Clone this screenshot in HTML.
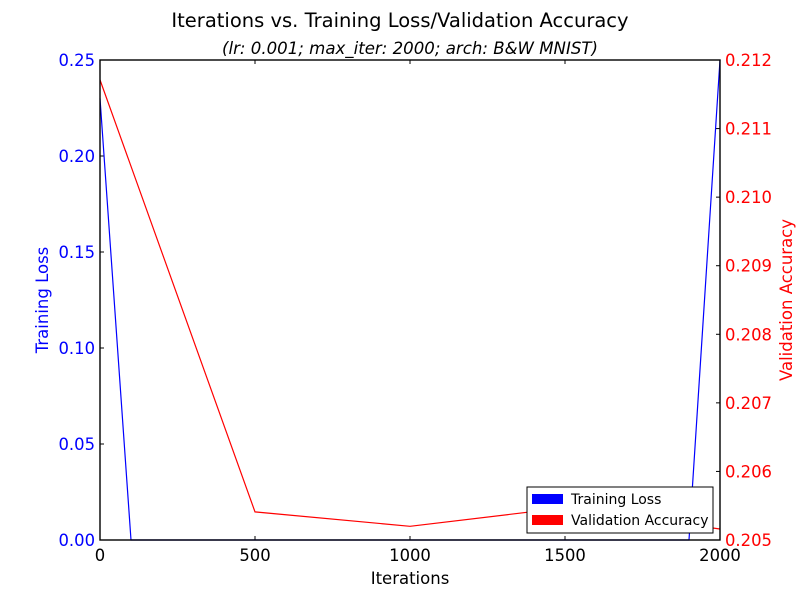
<!DOCTYPE html>
<html><head><meta charset="utf-8"><style>
body{margin:0;background:#fff}
svg{font-family:"DejaVu Sans","Liberation Sans",sans-serif}
</style></head><body>
<svg id="c" width="800" height="600" xmlns="http://www.w3.org/2000/svg">
<rect width="800" height="600" fill="#fff"/>
<text x="400" y="27" font-size="19.5" text-anchor="middle">Iterations vs. Training Loss/Validation Accuracy</text>
<text x="410" y="54" font-size="16.6" font-style="italic" text-anchor="middle">(lr: 0.001; max_iter: 2000; arch: B&amp;W MNIST)</text>
<g id="ticks"></g>
<g id="series"></g>
<rect x="100" y="60" width="620" height="480" fill="none" stroke="#000" stroke-width="1.4"/>
<text x="410" y="584" font-size="16.5" text-anchor="middle">Iterations</text>
<text transform="translate(48,300) rotate(-90)" font-size="16.5" fill="#0000ff" text-anchor="middle">Training Loss</text>
<text transform="translate(792,300) rotate(-90)" font-size="16.5" fill="#ff0000" text-anchor="middle">Validation Accuracy</text>
<g>
<rect x="527" y="487" width="186" height="46" fill="#fff" stroke="#000"/>
<rect x="532" y="494" width="31" height="10" fill="#0000ff"/>
<text x="571" y="504" font-size="14">Training Loss</text>
<rect x="532" y="515" width="31" height="10" fill="#ff0000"/>
<text x="571" y="525" font-size="14">Validation Accuracy</text>
</g>
</svg>
<script>
const lossIters=[0,100,1900,2000];
const lossValues=[0.23,0,0,0.25];
const accIters=[0,500,1000,1500,2000];
const accValues=[0.21171,0.20541,0.20520,0.20547,0.20516];
const xTicks=[0,500,1000,1500,2000];
const leftTicks=[0,0.05,0.10,0.15,0.20,0.25];
const leftTickLabels=["0.00","0.05","0.10","0.15","0.20","0.25"];
const rightTicks=[0.205,0.206,0.207,0.208,0.209,0.210,0.211,0.212];
const rightTickLabels=["0.205","0.206","0.207","0.208","0.209","0.210","0.211","0.212"];
const NS="http://www.w3.org/2000/svg";
const X=v=>100+v/2000*620;
const YL=v=>540-v/0.25*480;
const YR=v=>540-(v-0.205)/0.007*480;
const tg=document.getElementById('ticks'),sg=document.getElementById('series');
function mk(t,a,p){const e=document.createElementNS(NS,t);for(const k in a)e.setAttribute(k,a[k]);p.appendChild(e);return e;}
xTicks.forEach(v=>{const x=X(v);
 const l=mk('path',{d:`M${x},540v-4M${x},60v4`,stroke:'#000'},tg);
 
 
 const t=mk('text',{x:x,y:561,'font-size':16.4,'text-anchor':'middle'},tg);t.textContent=v;
 
 });
leftTicks.forEach((v,i)=>{const y=YL(v);
 const l=mk('path',{d:`M100,${y}h4`,stroke:'#000'},tg);
 
 
 const t=mk('text',{x:95,y:y+6,'font-size':16.4,'text-anchor':'end',fill:'#0000ff'},tg);t.textContent=leftTickLabels[i];
 
 });
rightTicks.forEach((v,i)=>{const y=YR(v);
 const l=mk('path',{d:`M720,${y}h-4`,stroke:'#000'},tg);
 
 
 const t=mk('text',{x:725,y:y+6,'font-size':16.4,fill:'#ff0000'},tg);t.textContent=rightTickLabels[i];
 
 });
const lp=mk('polyline',{points:lossIters.map((v,i)=>X(v)+','+YL(lossValues[i])).join(' '),fill:'none',stroke:'#0000ff','stroke-width':1.2},sg);


const ap=mk('polyline',{points:accIters.map((v,i)=>X(v)+','+YR(accValues[i])).join(' '),fill:'none',stroke:'#ff0000','stroke-width':1.2},sg);


</script>
</body></html>
